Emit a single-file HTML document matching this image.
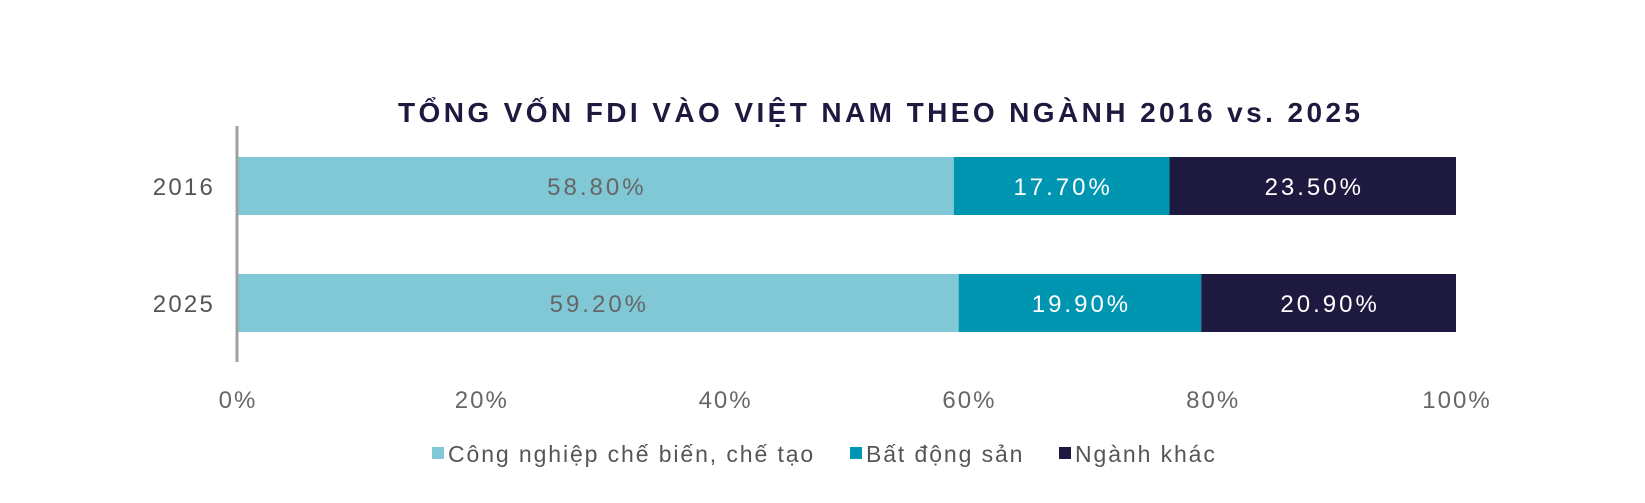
<!DOCTYPE html>
<html><head><meta charset="utf-8"><style>
body{margin:0;background:#fff;width:1645px;height:498px;overflow:hidden;font-family:"Liberation Sans",sans-serif}
</style></head><body>
<svg id="chart" width="1645" height="498" xmlns="http://www.w3.org/2000/svg" font-family="Liberation Sans, sans-serif">
<text x="879" y="122" text-anchor="middle" font-size="28" font-weight="bold" fill="#1e1a3f" textLength="962" lengthAdjust="spacing">TỔNG VỐN FDI VÀO VIỆT NAM THEO NGÀNH 2016 vs. 2025</text>
<g id="bars"></g>
<g id="xticks"></g>
<line x1="237" y1="126" x2="237" y2="362" stroke="#a0a0a0" stroke-width="3"/>
<g id="legend"></g>
</svg>
<script>
const categories=["2016","2025"];
const seriesNames=["Công nghiệp chế biến, chế tạo","Bất động sản","Ngành khác"];
const manufacturing=[58.8,59.2];
const realEstate=[17.7,19.9];
const other=[23.5,20.9];
const tickLabels=["0%","20%","40%","60%","80%","100%"];
const tickValues=[0,20,40,60,80,100];
const colors=["#80c8d6","#0095b0","#1e1a3f"];
const textColors=["#666","#fff","#fff"];
const NS="http://www.w3.org/2000/svg";
const x0=237,x1=1456;
const xs=v=>x0+(x1-x0)*v/100;
const bandTop=[157,274],barH=58;
const yb=i=>bandTop[i];
function mk(t,a,p){const e=document.createElementNS(NS,t);for(const k in a)e.setAttribute(k,a[k]);p.appendChild(e);return e;}
const gb=document.getElementById('bars');
const series=[manufacturing,realEstate,other];
categories.forEach((c,i)=>{
  const yl=mk('text',{x:215,y:yb(i)+barH/2+9,'text-anchor':'end','font-size':24,'letter-spacing':2.2,fill:'#555'},gb);
  yl.textContent=c;
  
  
  let acc=0;
  series.forEach((s,j)=>{
    const v=s[i];
    const r=mk('rect',{x:xs(acc),y:yb(i),width:xs(acc+v)-xs(acc),height:barH,fill:colors[j]},gb);
    
    
    const t=mk('text',{x:(xs(acc)+xs(acc+v))/2+1.5,y:yb(i)+barH/2+9,'text-anchor':'middle','font-size':24,'letter-spacing':3,fill:textColors[j]},gb);
    t.textContent=v.toFixed(2)+'%';
    
    
    acc+=v;
  });
});
const gx=document.getElementById('xticks');
tickValues.forEach((v,i)=>{
  const t=mk('text',{x:xs(v)+1,y:408,'text-anchor':'middle','font-size':24,'letter-spacing':2,fill:'#666'},gx);
  t.textContent=tickLabels[i];
  
  
});
const gl=document.getElementById('legend');
const lx=[432,850,1059];
seriesNames.forEach((n,j)=>{
  const g=mk('g',{},gl);
  
  
  mk('rect',{x:lx[j],y:447,width:12,height:12,fill:colors[j]},g);
  const t=mk('text',{x:lx[j]+16,y:462,'font-size':23,'letter-spacing':1.9,fill:'#555'},g);
  t.textContent=n;
});
</script>
</body></html>
